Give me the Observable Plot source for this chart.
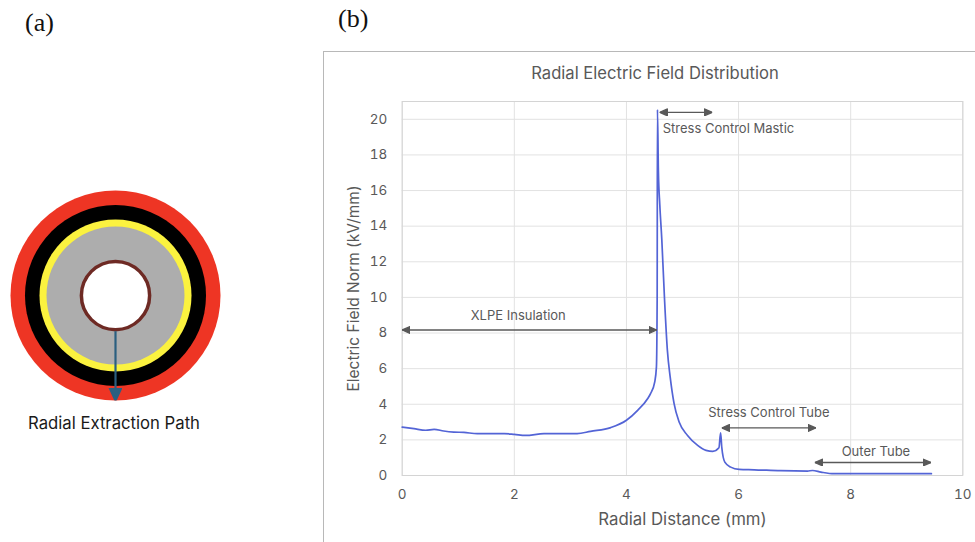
<!DOCTYPE html>
<html>
<head>
<meta charset="utf-8">
<script src="https://cdn.jsdelivr.net/npm/d3@7"></script>
<script src="https://cdn.jsdelivr.net/npm/@observablehq/plot@0.6"></script>
<style>
html,body{margin:0;padding:0;background:#fff;}
#page{position:relative;width:975px;height:542px;overflow:hidden;font-family:Inter,sans-serif;}
#page svg{position:absolute;background:transparent;}
.panel{position:absolute;font-family:"Liberation Serif",serif;font-size:26px;color:#111;line-height:28px;}
#box{position:absolute;left:323px;top:51px;width:652px;height:491px;border-left:1px solid #b8b8b8;border-top:1px solid #b8b8b8;box-sizing:border-box;}
#title{position:absolute;left:323px;width:664px;top:63px;text-align:center;font-size:16.6px;line-height:20px;color:#595959;}
</style>
</head>
<body>
<div id="page">
<div class="panel" style="left:25px;top:9px">(a)</div>
<div class="panel" style="left:338px;top:5px">(b)</div>
<div id="box"></div>
<div id="title">Radial Electric Field Distribution</div>
</div>
<script>
const distance = [0,0.21,0.42,0.57,0.74,0.92,1.1,1.34,1.82,2.0,2.2,2.53,3.12,3.36,3.72,4.0,4.2,4.38,4.43,4.505,4.535,4.548,4.553,4.57,4.595,4.63,4.68,4.73,4.78,4.85,4.94,5.09,5.27,5.42,5.54,5.65,5.68,5.70,5.755,5.86,6.01,6.28,6.75,7.23,7.32,7.47,7.7,8,9.44];
const fieldNorm = [2.72,2.63,2.54,2.59,2.5,2.44,2.42,2.35,2.35,2.31,2.25,2.35,2.35,2.48,2.69,3.1,3.66,4.32,4.6,5.26,6.1,9.9,20.55,17.1,15.2,13.3,9.86,7.04,5.54,4.04,3.0,2.25,1.69,1.41,1.36,1.56,2.4,1.6,0.75,0.47,0.34,0.32,0.27,0.25,0.28,0.19,0.1,0.1,0.1];

const regionNames = ["XLPE Insulation","Stress Control Mastic","Stress Control Tube","Outer Tube"];
const regionStart = [0,4.59,5.70,7.36];
const regionEnd = [4.54,5.53,7.38,9.43];
const regionLevel = [8.17,20.39,2.67,0.73];
const labelX = [2.07,5.82,6.54,8.45];
const labelY = [8.96,19.45,3.51,1.31];

const xTicks = [0,2,4,6,8,10];
const yTicks = [0,2,4,6,8,10,12,14,16,18,20];

const layerRadius = [1,0.862,0.724,0.657];
const layerColor = ["#ee3524","#000000","#fbf23f","#adadad"];
const boreRadius = 0.325;
const pathStart = 0.34;
const pathEnd = 1;

const curve = distance.map((d,i)=>({d,f:fieldNorm[i]}));
const regions = regionNames.map((name,i)=>({name,x1:regionStart[i],x2:regionEnd[i],y:regionLevel[i],lx:labelX[i],ly:labelY[i]}));
const layers = layerRadius.map((r,i)=>({r,c:layerColor[i]}));
const SVGNS = "http://www.w3.org/2000/svg";

function head(color, context){
  const doc = context.document;
  const m = doc.createElementNS(SVGNS,"marker");
  m.setAttribute("viewBox","0 0 8 8");
  m.setAttribute("markerUnits","userSpaceOnUse");
  m.setAttribute("markerWidth",8);
  m.setAttribute("markerHeight",8);
  m.setAttribute("refX",8);
  m.setAttribute("refY",4);
  m.setAttribute("orient","auto-start-reverse");
  const p = m.appendChild(doc.createElementNS(SVGNS,"path"));
  p.setAttribute("d","M0,0.5L8,4L0,7.5Z");
  p.setAttribute("fill",color);
  return m;
}
function bigHead(color, context){
  const doc = context.document;
  const m = doc.createElementNS(SVGNS,"marker");
  m.setAttribute("viewBox","0 0 12 14");
  m.setAttribute("markerUnits","userSpaceOnUse");
  m.setAttribute("markerWidth",12);
  m.setAttribute("markerHeight",14);
  m.setAttribute("refX",13);
  m.setAttribute("refY",6);
  m.setAttribute("orient","auto");
  const p = m.appendChild(doc.createElementNS(SVGNS,"path"));
  p.setAttribute("d","M0,0L13,6L0,12Z");
  p.setAttribute("fill",color);
  return m;
}

const grey = "#595959", gridc = "#e2e2e2";
const chart = Plot.plot({
  width:975, height:542,
  marginLeft:401.7, marginRight:12.7, marginTop:101, marginBottom:67,
  style:{fontFamily:"Inter,sans-serif",background:"transparent"},
  x:{domain:[0,10]},
  y:{domain:[0,21]},
  marks:[
    Plot.gridX(xTicks,{stroke:gridc,strokeOpacity:1,strokeWidth:1}),
    Plot.gridY(yTicks,{stroke:gridc,strokeOpacity:1,strokeWidth:1}),
    Plot.frame({stroke:"#d4d4d4",strokeWidth:1}),
    Plot.axisX({ticks:xTicks,tickSize:0,tickPadding:14,fontSize:13.5,color:grey,label:"Radial Distance (mm)",labelAnchor:"center",labelArrow:"none",labelOffset:49}),
    Plot.axisY({ticks:yTicks,tickSize:0,tickPadding:15,fontSize:13.5,color:grey,label:"Electric Field Norm (kV/mm)",labelAnchor:"center",labelArrow:"none",labelOffset:54}),
    Plot.line(curve,{x:"d",y:"f",stroke:"#5364d6",strokeWidth:1.7,curve:"monotone-x"}),
    Plot.link(regions,{x1:"x1",x2:"x2",y1:"y",y2:"y",stroke:grey,strokeWidth:1.3,markerStart:head,markerEnd:head}),
    Plot.text(regions,{x:"lx",y:"ly",text:"name",fill:grey,fontSize:13})
  ]
});
chart.style.left="0";chart.style.top="0";
chart.querySelectorAll('text').forEach(t=>{
  if(t.textContent==="Radial Distance (mm)") t.setAttribute("font-size","16.8");
  if(t.textContent.startsWith("Electric Field")) t.setAttribute("font-size","15.5");
});
document.getElementById("page").appendChild(chart);

const pathMark = [{x:0,y1:pathStart,y2:pathEnd}];
const diagram = Plot.plot({
  width:230,height:260,margin:0,
  style:{fontFamily:"Inter,sans-serif",background:"transparent"},
  x:{domain:[-115/105,115/105],axis:null},
  y:{domain:[-115/105,145/105],range:[0,260],axis:null},
  r:{type:"linear",domain:[0,1],range:[0,105]},
  marks:[
    Plot.dot(layers,{x:()=>0,y:()=>0,r:"r",fill:"c"}),
    Plot.dot([boreRadius],{x:()=>0,y:()=>0,r:d=>d,fill:"#fff",stroke:"#6e2a24",strokeWidth:3.5}),
    Plot.link(pathMark,{x1:"x",x2:"x",y1:"y1",y2:"y2",stroke:"#2a5f80",strokeWidth:2.2,markerEnd:bigHead}),
    Plot.text(["Radial Extraction Path"],{x:()=>0,y:()=>1.22,dx:-1.5,text:d=>d,fill:"#1a1a1a",fontSize:16.7})
  ]
});
diagram.style.left="0";diagram.style.top="180px";
document.getElementById("page").appendChild(diagram);
</script>
</body>
</html>
